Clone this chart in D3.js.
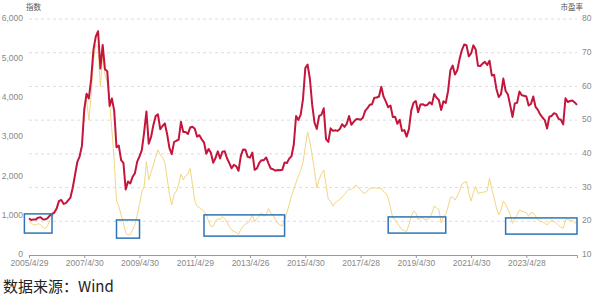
<!doctype html>
<html>
<head>
    <meta charset="utf-8">
    <style>
        body { margin: 0; background: #fff; }
        svg { display: block; font-family: "Open Sans", "Noto Sans CJK SC", sans-serif; }
        .axis text { fill: #888; font-size: 8.5px; }
        .grid line { stroke: #ddd; stroke-dasharray: 3,3; }
    </style>
    <script src="https://d3js.org/d3.v7.min.js"></script>
</head>
<body>
    <svg width="596" height="295"></svg>
    <script>
        // monthly, 2005-04 .. 2025-02
        var months = d3.timeMonth.range(new Date(2005, 3, 1), new Date(2025, 2, 1));

        // 指数 (left axis)
        var indexValues = [
            930, 890, 905, 905, 950, 958, 910, 905, 930,
            1000, 1045, 1080, 1180, 1370, 1400, 1300, 1320, 1390, 1460, 1710, 2040,
            2370, 2510, 2780, 3700, 4100, 3980, 4470, 5220, 5550, 5690, 4740, 5340,
            4720, 4670, 3790, 3980, 3670, 2740, 2780, 2410, 2340, 1665, 1870, 1820,
            1990, 2080, 2375, 2510, 2665, 3120, 3650, 2830, 2995, 3300, 3530, 3575,
            3200, 3280, 3345, 3070, 2715, 2565, 2870, 2905, 2935, 3385, 3125, 3130,
            3075, 3240, 3260, 3210, 3010, 3045, 2940, 2865, 2575, 2695, 2600, 2345,
            2465, 2635, 2455, 2625, 2635, 2460, 2335, 2205, 2295, 2255, 2140, 2520,
            2685, 2675, 2495, 2475, 2605, 2165, 2200, 2340, 2410, 2410, 2480, 2330,
            2200, 2180, 2145, 2160, 2155, 2165, 2350, 2340, 2450, 2510, 2810, 3535,
            3435, 3570, 3965, 4750, 4840, 4475, 3815, 3365, 3205, 3535, 3565, 3730,
            2945, 2875, 3220, 3155, 3170, 3155, 3205, 3325, 3255, 3335, 3535, 3310,
            3385, 3450, 3455, 3440, 3490, 3665, 3735, 3820, 3835, 4000, 4005, 4030,
            4275, 4025, 3900, 3755, 3800, 3510, 3515, 3335, 3440, 3155, 3175, 3010,
            3200, 3670, 3870, 3915, 3630, 3825, 3835, 3800, 3815, 3885, 3830, 4095,
            4000, 3940, 3685, 3910, 3865, 4165, 4695, 4815, 4590, 4695, 4980, 5210,
            5350, 5335, 5050, 5125, 5330, 5225, 4810, 4805, 4865, 4910, 4830, 4940,
            4565, 4580, 4220, 4015, 4090, 4485, 4170, 4080, 3805, 3510, 3855, 3870,
            4155, 4060, 4050, 4030, 3800, 3840, 4030, 3765, 3690, 3575, 3495, 3430,
            3215, 3515, 3535, 3605, 3580, 3460, 3440, 3320, 3985, 3890, 3915, 3930,
            3880, 3815
        ];

        // 市盈率 (right axis)
        var peValues = [
            19.9, 19.4, 19.0, 18.9, 19.3, 19.0, 18.2, 17.8, 18.6,
            20.2, 21.0, 22.2, 23.6, 26.1, 26.3, 25.0, 25.4, 26.2, 27.0, 30.0, 33.8,
            37.5, 39.3, 42.5, 52.0, 56.0, 50.0, 57.0, 68.0, 72.5, 71.5, 60.0, 69.0,
            63.4, 61.4, 55.5, 47.0, 38.0, 26.0, 24.5, 21.9, 19.5, 16.5, 15.9, 16.1,
            17.5, 19.0, 21.9, 25.0, 28.8, 30.3, 37.7, 32.3, 34.5, 36.7, 39.0, 41.2,
            39.7, 39.0, 37.5, 32.8, 28.0, 24.8, 28.0, 29.0, 31.0, 34.0, 32.3, 33.5,
            34.0, 35.7, 31.0, 26.0, 24.5, 24.0, 23.5, 23.0, 21.8, 20.0, 18.5, 18.5,
            20.0, 20.8, 20.5, 21.4, 20.8, 19.8, 18.3, 17.5, 17.0, 16.7, 16.2, 17.5,
            18.5, 19.2, 19.5, 20.4, 21.9, 19.9, 20.8, 21.5, 22.5, 21.5, 22.0, 23.8,
            22.4, 22.0, 20.5, 19.4, 19.0, 18.6, 20.4, 22.5, 25.0, 27.5, 29.5, 31.5,
            33.5, 35.0, 37.5, 42.0, 46.5, 43.5, 39.5, 35.0, 30.0, 32.5, 34.0, 35.2,
            31.0, 26.5, 26.0, 24.5, 25.5, 26.0, 26.5, 27.3, 28.0, 28.8, 29.5, 29.5,
            30.0, 30.8, 30.0, 29.3, 28.5, 28.3, 29.0, 29.8, 29.8, 30.0, 29.8, 29.8,
            29.8, 28.8, 28.3, 27.0, 24.0, 21.0, 20.5, 19.4, 18.4, 17.5, 17.2, 17.0,
            19.0, 21.4, 23.0, 22.5, 20.4, 21.0, 21.0, 20.5, 20.6, 21.0, 22.5, 24.5,
            24.0, 23.5, 19.5, 21.5, 22.0, 24.3, 27.0, 27.3, 26.3, 27.5, 29.0, 31.0,
            31.5, 31.8, 28.3, 26.0, 28.5, 30.3, 28.3, 28.5, 28.6, 28.7, 29.0, 32.8,
            29.5, 27.0, 24.0, 21.9, 23.3, 26.0, 25.0, 23.5, 21.9, 19.4, 20.8, 21.8,
            23.4, 23.0, 22.8, 22.5, 21.5, 22.6, 22.5, 21.5, 20.4, 20.0, 19.8, 19.5,
            18.9, 19.8, 20.4, 20.0, 19.5, 18.8, 18.3, 17.9, 20.4, 20.5, 20.3, 20.2,
            19.6, 19.2
        ];

        var tickLabels = ["2005/4/29", "2007/4/30", "2009/4/30", "2011/4/29", "2013/4/26",
            "2015/4/30", "2017/4/28", "2019/4/30", "2021/4/30", "2023/4/28"];
        var leftTicks = [0, 1000, 2000, 3000, 4000, 5000, 6000];
        var rightTicks = [10, 20, 30, 40, 50, 60, 70, 80];

        // highlighted low-PE zones: [start month, end month, pe low, pe high]
        var zones = [
            ["2005-02", "2006-02", 16.5, 22.2],
            ["2008-06", "2009-04", 15.0, 20.4],
            ["2011-08", "2014-07", 15.6, 21.9],
            ["2018-04", "2020-05", 16.5, 21.3],
            ["2022-07", "2025-02", 16.2, 21.0]
        ];

        var svg = d3.select("svg");
        var plotL = 29, plotR = 577, plotT = 19, plotB = 255;

        var x = d3.scaleLinear().domain([0, months.length - 1]).range([plotL, plotR]);
        var yL = d3.scaleLinear().domain([0, 6000]).range([plotB, plotT]);
        var yR = d3.scaleLinear().domain([10, 80]).range([plotB, plotT]);

        var monthIndex = function (s) {
            var p = s.split("-");
            return (+p[0] - 2005) * 12 + (+p[1] - 4);
        };

        // dashed grid from right axis
        svg.append("g").attr("class", "grid")
            .selectAll("line")
            .data(rightTicks.slice(1))
            .enter().append("line")
            .attr("x1", plotL).attr("x2", plotR)
            .attr("y1", function (d) { return yR(d); })
            .attr("y2", function (d) { return yR(d); });

        // left axis
        var gl = svg.append("g").attr("class", "axis")
            .attr("transform", "translate(25,0)")
            .call(d3.axisLeft(yL).tickValues(leftTicks).tickSize(0).tickPadding(2).tickFormat(d3.format(",")));
        gl.select(".domain").remove();
        gl.selectAll(".tick text").attr("dy", "0.2em");

        // right axis
        var gr = svg.append("g").attr("class", "axis")
            .attr("transform", "translate(579,0)")
            .call(d3.axisRight(yR).tickValues(rightTicks).tickSize(0).tickPadding(3));
        gr.select(".domain").remove();
        gr.selectAll(".tick text").attr("dy", "0.2em");

        // bottom axis
        var gx = svg.append("g").attr("class", "axis")
            .attr("transform", "translate(0," + plotB + ")")
            .call(d3.axisBottom(x)
                .tickValues(d3.range(0, 217, 24))
                .tickFormat(function (d, i) { return tickLabels[i]; })
                .tickSize(3).tickSizeOuter(3).tickPadding(2));
        gx.selectAll("line, .domain").attr("stroke", "#999");

        // axis titles
        svg.append("text").attr("x", 26).attr("y", 10)
            .attr("font-size", 7.5).attr("fill", "#555").text("指数");
        svg.append("text").attr("x", 583).attr("y", 10).attr("text-anchor", "end")
            .attr("font-size", 7.5).attr("fill", "#555").text("市盈率");

        // PE line
        svg.append("path")
            .datum(peValues)
            .attr("fill", "none")
            .attr("stroke", "#f2d680")
            .attr("stroke-width", 1)
            .attr("d", d3.line()
                .x(function (d, i) { return x(i); })
                .y(function (d) { return yR(d); }));

        // index line
        svg.append("path")
            .datum(indexValues)
            .attr("fill", "none")
            .attr("stroke", "#c4163c")
            .attr("stroke-width", 2)
            .attr("stroke-linejoin", "round")
            .attr("d", d3.line()
                .x(function (d, i) { return x(i); })
                .y(function (d) { return yL(d); }));

        // blue boxes
        svg.append("g").selectAll("rect")
            .data(zones)
            .enter().append("rect")
            .attr("x", function (d) { return x(monthIndex(d[0])); })
            .attr("width", function (d) { return x(monthIndex(d[1])) - x(monthIndex(d[0])); })
            .attr("y", function (d) { return yR(d[3]); })
            .attr("height", function (d) { return yR(d[2]) - yR(d[3]); })
            .attr("fill", "none")
            .attr("stroke", "#2f75b5")
            .attr("stroke-width", 1.5);

        // source
        svg.append("text").attr("x", 3).attr("y", 292)
            .attr("font-family", "Noto Sans CJK SC")
            .attr("font-size", 15).attr("fill", "#222")
            .text("数据来源：Wind");
    </script>
</body>
</html>
